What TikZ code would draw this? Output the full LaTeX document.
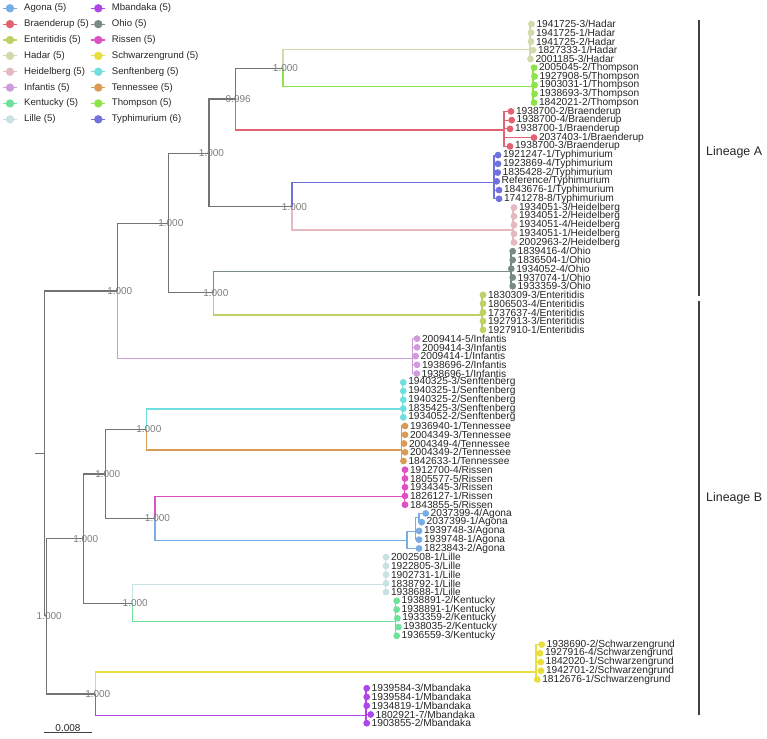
\documentclass[tikz,border=0pt]{standalone}
\usepackage{fontspec}
\setmainfont{Liberation Sans}
\usepackage{xcolor}
\usetikzlibrary{positioning, backgrounds}

\definecolor{agona}{RGB}{120,172,228}
\definecolor{braenderup}{RGB}{226,98,114}
\definecolor{enteritidis}{RGB}{192,208,100}
\definecolor{hadar}{RGB}{208,218,170}
\definecolor{heidelberg}{RGB}{228,186,192}
\definecolor{infantis}{RGB}{208,155,218}
\definecolor{kentucky}{RGB}{110,225,155}
\definecolor{lille}{RGB}{200,226,228}
\definecolor{mbandaka}{RGB}{172,70,235}
\definecolor{ohio}{RGB}{122,138,136}
\definecolor{rissen}{RGB}{222,80,195}
\definecolor{schwarz}{RGB}{232,222,60}
\definecolor{senft}{RGB}{110,222,222}
\definecolor{tennessee}{RGB}{218,155,85}
\definecolor{thompson}{RGB}{140,228,72}
\definecolor{typhi}{RGB}{112,112,222}
\definecolor{treegray}{RGB}{115,115,115}
\definecolor{bootgray}{RGB}{125,125,125}

\tikzset{
  branch/.style={line width=1.1pt},
  treeline/.style={branch, draw=treegray},
  tipdot/.style={circle, inner sep=0pt, minimum size=6.8pt},
  tiplab/.style={inner sep=0.2pt, font=\fontsize{10.2}{11}\selectfont,
                 text=black!85},
  boot/.style={inner sep=0pt, xshift=2.5pt, text=bootgray,
               font=\fontsize{10}{10}\selectfont},
  legdot/.style={circle, inner sep=0pt, minimum size=8.4pt},
  legtext/.style={inner sep=0pt, text=black!85,
                  font=\fontsize{9.6}{10}\selectfont},
  lineage/.style={line width=1.1pt, draw=black!75},
  lintext/.style={anchor=west, inner sep=0pt, text=black!85,
                  font=\fontsize{12.4}{13}\selectfont},
}

% row / tip x / parent / colour / strain / serovar
\newcommand\tiplist{%
  0/531.5/c-hadar/hadar/1941725-3/Hadar,
  1/531/c-hadar/hadar/1941725-1/Hadar,
  2/531/c-hadar/hadar/1941725-2/Hadar,
  3/533/c-hadar/hadar/1827333-1/Hadar,
  4/530.5/c-hadar/hadar/2001185-3/Hadar,
  5/534/c-thompson/thompson/2005045-2/Thompson,
  6/534.5/c-thompson/thompson/1927908-5/Thompson,
  7/534.5/c-thompson/thompson/1903031-1/Thompson,
  8/534.5/c-thompson/thompson/1938693-3/Thompson,
  9/534/c-thompson/thompson/1842021-2/Thompson,
  10/511/c-braenderup/braenderup/1938700-2/Braenderup,
  11/511.7/c-braenderup/braenderup/1938700-4/Braenderup,
  12/510/c-braenderup/braenderup/1938700-1/Braenderup,
  13/534/c-braenderup/braenderup/2037403-1/Braenderup,
  14/510/c-braenderup/braenderup/1938700-3/Braenderup,
  15/498/c-typhi/typhi/1921247-1/Typhimurium,
  16/498/c-typhi/typhi/1923869-4/Typhimurium,
  17/497.7/c-typhi/typhi/1835428-2/Typhimurium,
  18/496.7/c-typhi/typhi/Reference/Typhimurium,
  19/499/c-typhi/typhi/1843676-1/Typhimurium,
  20/499/c-typhi/typhi/1741278-8/Typhimurium,
  21/514/c-heidelberg/heidelberg/1934051-3/Heidelberg,
  22/514/c-heidelberg/heidelberg/1934051-2/Heidelberg,
  23/514/c-heidelberg/heidelberg/1934051-4/Heidelberg,
  24/514/c-heidelberg/heidelberg/1934051-1/Heidelberg,
  25/514/c-heidelberg/heidelberg/2002963-2/Heidelberg,
  26/512.7/c-ohio/ohio/1839416-4/Ohio,
  27/512.7/c-ohio/ohio/1836504-1/Ohio,
  28/511.3/c-ohio/ohio/1934052-4/Ohio,
  29/512.7/c-ohio/ohio/1937074-1/Ohio,
  30/512.7/c-ohio/ohio/1933359-3/Ohio,
  31/483/c-enteritidis/enteritidis/1830309-3/Enteritidis,
  32/483/c-enteritidis/enteritidis/1806503-4/Enteritidis,
  33/483/c-enteritidis/enteritidis/1737637-4/Enteritidis,
  34/483/c-enteritidis/enteritidis/1927913-3/Enteritidis,
  35/483/c-enteritidis/enteritidis/1927910-1/Enteritidis,
  36/417/c-infantis/infantis/2009414-5/Infantis,
  37/417/c-infantis/infantis/2009414-3/Infantis,
  38/415.7/c-infantis/infantis/2009414-1/Infantis,
  39/417/c-infantis/infantis/1938696-2/Infantis,
  40/416.7/c-infantis/infantis/1938696-1/Infantis,
  41/403.3/c-senft/senft/1940325-3/Senftenberg,
  42/403.3/c-senft/senft/1940325-1/Senftenberg,
  43/403.3/c-senft/senft/1940325-2/Senftenberg,
  44/403.3/c-senft/senft/1835425-3/Senftenberg,
  45/403.3/c-senft/senft/1934052-2/Senftenberg,
  46/405/c-tennessee/tennessee/1936940-1/Tennessee,
  47/405/c-tennessee/tennessee/2004349-3/Tennessee,
  48/404/c-tennessee/tennessee/2004349-4/Tennessee,
  49/405/c-tennessee/tennessee/2004349-2/Tennessee,
  50/403.5/c-tennessee/tennessee/1842633-1/Tennessee,
  51/405/c-rissen/rissen/1912700-4/Rissen,
  52/405/c-rissen/rissen/1805577-5/Rissen,
  53/405/c-rissen/rissen/1934345-3/Rissen,
  54/405/c-rissen/rissen/1826127-1/Rissen,
  55/405/c-rissen/rissen/1843855-5/Rissen,
  56/425.7/ag3/agona/2037399-4/Agona,
  57/421.7/ag3/agona/2037399-1/Agona,
  58/419/ag2/agona/1939748-3/Agona,
  59/419/ag2/agona/1939748-1/Agona,
  60/419/c-agona/agona/1823843-2/Agona,
  61/386/c-lille/lille/2002508-1/Lille,
  62/386/c-lille/lille/1922805-3/Lille,
  63/386/c-lille/lille/1902731-1/Lille,
  64/386/c-lille/lille/1838792-1/Lille,
  65/386/c-lille/lille/1938688-1/Lille,
  66/396.7/c-kentucky/kentucky/1938891-2/Kentucky,
  67/396.7/c-kentucky/kentucky/1938891-1/Kentucky,
  68/397.3/c-kentucky/kentucky/1933359-2/Kentucky,
  69/398.3/c-kentucky/kentucky/1938035-2/Kentucky,
  70/396.7/c-kentucky/kentucky/1936559-3/Kentucky,
  71/541.7/c-schwarz/schwarz/1938690-2/Schwarzengrund,
  72/540/c-schwarz/schwarz/1927916-4/Schwarzengrund,
  73/540.7/c-schwarz/schwarz/1842020-1/Schwarzengrund,
  74/541/c-schwarz/schwarz/1942701-2/Schwarzengrund,
  75/537.3/c-schwarz/schwarz/1812676-1/Schwarzengrund,
  76/366.7/c-mbandaka/mbandaka/1939584-3/Mbandaka,
  77/366.7/c-mbandaka/mbandaka/1939584-1/Mbandaka,
  78/366.7/c-mbandaka/mbandaka/1934819-1/Mbandaka,
  79/370.7/c-mbandaka/mbandaka/1802921-7/Mbandaka,
  80/366.7/c-mbandaka/mbandaka/1903855-2/Mbandaka}

\begin{document}
\begin{tikzpicture}[x=1pt, y=-1pt]
  \useasboundingbox (0,0) rectangle (767,738);

  % legend
  \foreach \cl/\txt [count=\k from 0] in {agona/{Agona (5)},
      braenderup/{Braenderup (5)}, enteritidis/{Enteritidis (5)},
      hadar/{Hadar (5)}, heidelberg/{Heidelberg (5)},
      infantis/{Infantis (5)}, kentucky/{Kentucky (5)}, lille/{Lille (5)}} {
    \pgfmathsetmacro\ly{8.3+15.86*\k}
    \node[legdot, fill=\cl] (g-\cl) at (10,\ly) {};
    \draw[line width=1.2pt, draw=\cl] ([xshift=-7pt]g-\cl.center) -- ([xshift=7pt]g-\cl.center);
    \node[legtext, right=14pt of g-\cl.center] (gt-\cl) {\txt};
  }
  \foreach \cl/\txt [count=\k from 0] in {mbandaka/{Mbandaka (5)},
      ohio/{Ohio (5)}, rissen/{Rissen (5)}, schwarz/{Schwarzengrund (5)},
      senft/{Senftenberg (5)}, tennessee/{Tennessee (5)},
      thompson/{Thompson (5)}, typhi/{Typhimurium (6)}} {
    \pgfmathsetmacro\ly{8.3+15.86*\k}
    \node[legdot, fill=\cl] (g-\cl) at (98.3,\ly) {};
    \draw[line width=1.2pt, draw=\cl] ([xshift=-7pt]g-\cl.center) -- ([xshift=7pt]g-\cl.center);
    \node[legtext, right=13.4pt of g-\cl.center] (gt-\cl) {\txt};
  }

  % internal nodes
  \coordinate (root0) at (35,453.4);
  \coordinate (root)  at (44.3,453.4);
  \coordinate (nA)    at (117.3,291);
  \coordinate (nA1)   at (168.3,223.3);
  \coordinate (nA2)   at (209,153.3);
  \coordinate (nA3)   at (235.7,99);
  \coordinate (nHT)   at (283,68.3);
  \coordinate (nTH)   at (292,206.7);
  \coordinate (nOE)   at (213.3,292.7);
  \coordinate (nB0)   at (46.7,615.8);
  \coordinate (nB)    at (83.3,538.7);
  \coordinate (nB1)   at (105.3,474);
  \coordinate (nST)   at (146.3,429.3);
  \coordinate (nRA)   at (155,518.3);
  \coordinate (nLK)   at (132.7,603.3);
  \coordinate (nSM)   at (95.3,694);

  % serovar nodes
  \coordinate (c-hadar)       at (530,49.3);
  \coordinate (c-thompson)    at (533,86.7);
  \coordinate (c-braenderup)  at (504,130);
  \coordinate (c-typhi)       at (494,182.7);
  \coordinate (c-heidelberg)  at (513,230);
  \coordinate (c-ohio)        at (511,271.3);
  \coordinate (c-enteritidis) at (482,315);
  \coordinate (c-infantis)    at (412.7,358.7);
  \coordinate (c-senft)       at (402.5,409);
  \coordinate (c-tennessee)   at (401.7,450);
  \coordinate (c-rissen)      at (404.2,496.7);
  \coordinate (c-agona)       at (407,540.3);
  \coordinate (ag2)           at (415.5,531.2);
  \coordinate (ag3)           at (419,517.6);
  \coordinate (c-lille)       at (385.5,584.3);
  \coordinate (c-kentucky)    at (395.5,621.7);
  \coordinate (c-schwarz)     at (536,672);
  \coordinate (c-mbandaka)    at (366,715.7);

  % backbone
  \draw[treeline] (root0) -- (root);
  \draw[treeline] (root) |- (nA);
  \draw[treeline] (root) |- (nB0);
  \draw[treeline] (nA) |- (nA1);
  \draw[treeline] (nA1) |- (nA2);
  \draw[treeline] (nA1) |- (nOE);
  \draw[treeline] (nA2) |- (nA3);
  \draw[treeline] (nA2) |- (nTH);
  \draw[treeline] (nA3) |- (nHT);
  \draw[treeline] (nB0) |- (nB);
  \draw[treeline] (nB0) |- (nSM);
  \draw[treeline] (nB) |- (nB1);
  \draw[treeline] (nB) |- (nLK);
  \draw[treeline] (nB1) |- (nST);
  \draw[treeline] (nB1) |- (nRA);

  % serovar stems
  \draw[branch, draw=hadar]       (nHT) |- (c-hadar);
  \draw[branch, draw=thompson]    (nHT) |- (c-thompson);
  \draw[branch, draw=braenderup]  (nA3) |- (c-braenderup);
  \draw[branch, draw=typhi]       (nTH) |- (c-typhi);
  \draw[branch, draw=heidelberg]  (nTH) |- (c-heidelberg);
  \draw[branch, draw=ohio]        (nOE) |- (c-ohio);
  \draw[branch, draw=enteritidis] (nOE) |- (c-enteritidis);
  \draw[branch, draw=infantis]    (nA) |- (c-infantis);
  \draw[branch, draw=senft]       (nST) |- (c-senft);
  \draw[branch, draw=tennessee]   (nST) |- (c-tennessee);
  \draw[branch, draw=rissen]      (nRA) |- (c-rissen);
  \draw[branch, draw=agona]       (nRA) |- (c-agona);
  \draw[branch, draw=agona]       (c-agona) |- (ag2);
  \draw[branch, draw=agona]       (ag2) |- (ag3);
  \draw[branch, draw=lille]       (nLK) |- (c-lille);
  \draw[branch, draw=kentucky]    (nLK) |- (c-kentucky);
  \draw[branch, draw=schwarz]     (nSM) |- (c-schwarz);
  \draw[branch, draw=mbandaka]    (nSM) |- (c-mbandaka);

  % tips
  \foreach \i/\tx/\up/\cl/\sid/\sero in \tiplist {
    \pgfmathsetmacro\ty{24+8.74*\i}
    \node[tipdot, fill=\cl] (t\i) at (\tx,\ty) {};
    \node[tiplab, right=1pt of t\i] (l\i) {\sid/\sero};
    \begin{scope}[on background layer]
      \draw[branch, draw=\cl] (\up) |- (t\i.center);
    \end{scope}
  }

  % support values
  \node[boot] (b1)  at (nHT) {1.000};
  \node[boot] (b2)  at (nA3) {0.996};
  \node[boot] (b3)  at (nA2) {1.000};
  \node[boot] (b4)  at (nTH) {1.000};
  \node[boot] (b5)  at (nA1) {1.000};
  \node[boot] (b6)  at (nOE) {1.000};
  \node[boot] (b7)  at (nA) {1.000};
  \node[boot] (b8)  at (nB0) {1.000};
  \node[boot] (b9)  at (nB) {1.000};
  \node[boot] (b10) at (nB1) {1.000};
  \node[boot] (b11) at (nST) {1.000};
  \node[boot] (b12) at (nRA) {1.000};
  \node[boot] (b13) at (nLK) {1.000};
  \node[boot] (b14) at (nSM) {1.000};

  % lineages
  \coordinate (la1) at (699,20);
  \coordinate (la2) at (699,296);
  \coordinate (lb1) at (699,301);
  \coordinate (lb2) at (699,715);
  \draw[lineage] (la1) -- (la2);
  \draw[lineage] (lb1) -- (lb2);
  \node[lintext] (linA) at (706,152) {Lineage A};
  \node[lintext] (linB) at (706,498) {Lineage B};

  % scale bar
  \coordinate (sb0) at (44.3,732.7);
  \coordinate (sb1) at (91.7,732.7);
  \draw[line width=1.1pt, draw=black!75] (sb0) -- node[above=1pt, inner sep=0pt,
    font=\fontsize{10}{11}\selectfont, text=black!85] (sbl) {0.008} (sb1);
\end{tikzpicture}
\end{document}
